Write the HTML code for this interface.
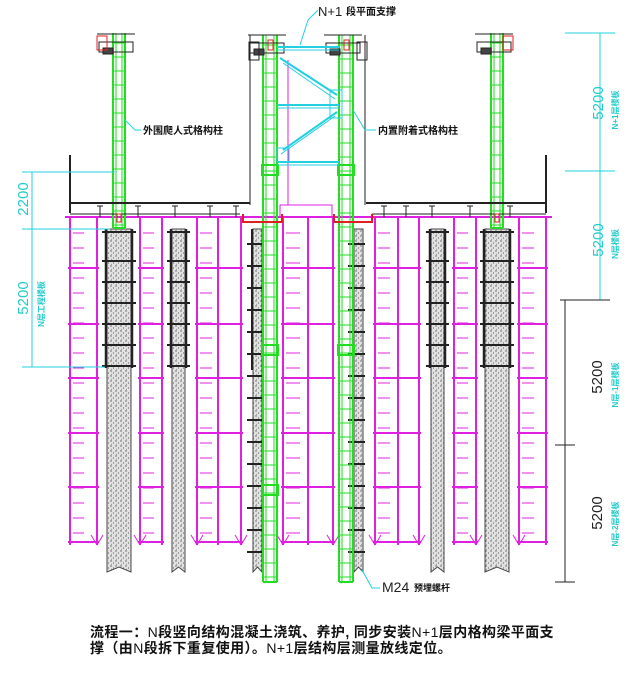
<!DOCTYPE html>
<html><head><meta charset="utf-8"><style>
html,body{margin:0;padding:0;background:#fff;width:640px;height:673px;overflow:hidden}
svg{display:block}
.cap{font-family:"Liberation Sans","Noto Sans CJK SC",sans-serif;font-size:14px;font-weight:bold;fill:#111;letter-spacing:0.4px}
.lbl{font-family:"Liberation Sans","Noto Sans CJK SC",sans-serif;font-size:10px;font-weight:bold;fill:#111}
.dim{font-family:"Liberation Sans",sans-serif;font-size:15px;font-weight:300}
.small{font-family:"Liberation Sans","Noto Sans CJK SC",sans-serif;font-size:8px;font-weight:bold}
</style></head><body>
<svg id="s" width="640" height="673" viewBox="0 0 640 673" xmlns="http://www.w3.org/2000/svg">
<defs>
<pattern id="conc" width="5" height="5" patternUnits="userSpaceOnUse">
<rect width="5" height="5" fill="#e2e2e2"/>
<circle cx="1" cy="1" r="0.7" fill="#555"/><circle cx="3.5" cy="3" r="0.6" fill="#666"/><circle cx="1.5" cy="4.3" r="0.5" fill="#777"/>
</pattern>
</defs>
<g id="g"></g>
<text x="318" y="16" class="dim" style="font-size:13px" fill="#222">N+1</text>
<text x="346" y="15" class="lbl">段平面支撑</text>
<text x="143" y="134" class="lbl">外围爬人式格构柱</text>
<text x="378" y="134" class="lbl">内置附着式格构柱</text>
<text x="382" y="592" class="dim" style="font-size:14px" fill="#222">M24</text>
<text x="414" y="591" class="lbl" style="font-size:9px">预埋螺杆</text>
<text transform="translate(28,199) rotate(-90)" text-anchor="middle" class="dim" fill="#22cccc">2200</text>
<text transform="translate(28,298) rotate(-90)" text-anchor="middle" class="dim" fill="#22cccc">5200</text>
<text transform="translate(44,304) rotate(-90)" text-anchor="middle" class="small" fill="#22cccc">N层工程楼板</text>
<text transform="translate(603,103) rotate(-90)" text-anchor="middle" class="dim" fill="#22cccc">5200</text>
<text transform="translate(618,110) rotate(-90)" text-anchor="middle" class="small" fill="#22cccc">N+1层楼板</text>
<text transform="translate(603,240) rotate(-90)" text-anchor="middle" class="dim" fill="#22cccc">5200</text>
<text transform="translate(618,244) rotate(-90)" text-anchor="middle" class="small" fill="#22cccc">N层楼板</text>
<text transform="translate(602,377) rotate(-90)" text-anchor="middle" class="dim" fill="#222">5200</text>
<text transform="translate(618,385) rotate(-90)" text-anchor="middle" class="small" fill="#22cccc">N层-1层楼板</text>
<text transform="translate(602,513) rotate(-90)" text-anchor="middle" class="dim" fill="#222">5200</text>
<text transform="translate(618,524) rotate(-90)" text-anchor="middle" class="small" fill="#22cccc">N层-2层楼板</text>
<text x="90" y="637" class="cap">流程一：<tspan font-weight="normal">N</tspan>段竖向结构混凝土浇筑、养护, 同步安装<tspan font-weight="normal">N+1</tspan>层内格构梁平面支</text>
<text x="90" y="653" class="cap">撑（由<tspan font-weight="normal">N</tspan>段拆下重复使用）。<tspan font-weight="normal">N+1</tspan>层结构层测量放线定位。</text>
</svg>
<script>
var g=document.getElementById('g'),NS='http://www.w3.org/2000/svg';
function el(t,a){var e=document.createElementNS(NS,t);for(var k in a)e.setAttribute(k,a[k]);g.appendChild(e);return e;}
function L(x1,y1,x2,y2,c,w){el('line',{x1:x1,y1:y1,x2:x2,y2:y2,stroke:c,'stroke-width':w||1});}
function R(x,y,w,h,c,f,sw){el('rect',{x:x,y:y,width:w,height:h,stroke:c,fill:f||'none','stroke-width':sw||1});}
var M='#e020e0',G='#22dd22',C='#22d0e0',K='#222',RD='#e02020';
var V=[70,97,140,162,197,218,241,283,308,333,375,398,419,454,476,519,546];
V.forEach(function(x){L(x,217,x,545,M,2);});
var bays=[[70,97],[140,162],[197,241],[283,333],[375,419],[454,476],[519,546]];
[268,324,378,433,487,542].forEach(function(y){bays.forEach(function(b){L(b[0]-2,y,b[1]+2,y,M,2);});});
L(65,217,552,217,M,2);
var rungX=[[73,84],[143,154],[200,212],[286,300],[378,390],[457,468],[522,534]];
rungX.forEach(function(r){for(var y=233;y<540;y+=15){L(r[0],y,r[1],y,M,1);}});
[[97,545],[140,545],[197,545],[241,545],[283,545],[333,545],[375,545],[419,545],[476,545],[519,545]].forEach(function(p){L(p[0]-6,p[1]-10,p[0],p[1],M,1);L(p[0]+6,p[1]-10,p[0],p[1],M,1);});
L(288,60,288,205,M,1);
R(280,205,52,12,M);
function col(x,w,top,bot){el('path',{d:'M'+x+' '+top+'H'+(x+w)+'V'+bot+'l-'+(w/2)+' -5l-'+(w/2)+' 5Z',fill:'url(#conc)',stroke:'#444','stroke-width':1});}
[[107,24],[172,13],[253,9],[485,24],[431,13],[354,9]].forEach(function(c){col(c[0],c[1],229,572);});
[[107,24],[172,13],[485,24],[431,13]].forEach(function(c){
 L(c[0]-1,229,c[0]-1,368,K,2.5);L(c[0]+c[1]+1,229,c[0]+c[1]+1,368,K,2.5);
 [232,261,282,303,324,345,366].forEach(function(y){L(c[0]-5,y,c[0]+c[1]+5,y,K,2);});
});
[[253,9],[354,9]].forEach(function(c){
 L(c[0]-1,229,c[0]-1,370,K,2);
 for(var y=244;y<570;y+=22){L(c[0]-6,y,c[0]+c[1]+2,y,K,2);}
});
function lat(x,w,top,bot){
 L(x,top,x,bot,G,2);L(x+w,top,x+w,bot,G,2);
 L(x+3,top,x+3,bot,G,1);L(x+w-3,top,x+w-3,bot,G,1);
 for(var y=top+10;y<bot;y+=14){L(x,y,x+w,y,G,1);}
 L(x,bot,x+w,bot,G,2);
}
lat(113,12,33,228);lat(491,12,33,228);
lat(263,14,35,582);lat(339,14,35,582);
[[263,165],[339,165],[263,345],[339,345],[263,485]].forEach(function(p){R(p[0]-1,p[1],16,10,G,'none',2);});
L(70,203,250,203,K,2);L(366,203,546,203,K,2);
L(70,214,240,214,K,1);L(372,214,546,214,K,1);
L(70,155,70,213,K,2);L(546,155,546,213,K,2);
L(250,35,250,205,K,1);L(365,35,365,205,K,1);
[100,138,175,210,236,384,406,432,470,510].forEach(function(x){L(x,206,x,217,K,1);L(x-3,206,x+3,206,K,1);});
function cap(x,y){R(x-10,y+8,34,10,K);R(x-6,y+14,10,6,K,'#444');L(x-12,y,x+26,y,K,1);}
cap(109,34);cap(487,34);cap(260,35);cap(336,35);
R(249,42,10,18,K);R(357,42,10,18,K);
R(97,36,10,14,RD);R(503,36,10,14,RD);
R(268,40,5,10,RD);R(344,40,5,10,RD);
el('path',{d:'M243 214V222H282V214',stroke:RD,fill:'none','stroke-width':2});
el('path',{d:'M334 214V222H372V214',stroke:RD,fill:'none','stroke-width':2});
R(117,214,4,8,RD);R(495,214,4,8,RD);
[47,105,162].forEach(function(y){L(277,y,339,y,C,2);L(277,y+3,339,y+3,C,1);});
L(280,58,337,95,C,2);L(283,63,335,99,C,1);
L(337,112,283,150,C,2);L(335,116,281,154,C,1);
R(330,90,12,28,C);R(277,148,12,14,C);
el('polyline',{points:'300,45 308,20 318,10',stroke:C,fill:'none'});
el('polyline',{points:'125,120 135,130 141,130',stroke:C,fill:'none'});
el('polyline',{points:'353,110 365,130 376,130',stroke:C,fill:'none'});
el('polyline',{points:'362,570 372,588 380,588',stroke:C,fill:'none'});
L(32,172,32,367,C,1);L(22,172,115,172,C,1);L(22,229,110,229,C,1);L(22,367,105,367,C,1);
L(600,33,600,300,C,1);L(565,33,615,33,C,1);L(565,171,615,171,C,1);L(560,300,610,300,K,1);
L(565,300,565,582,K,1);L(555,445,575,445,K,1);L(555,582,575,582,K,1);
</script>
</body></html>
